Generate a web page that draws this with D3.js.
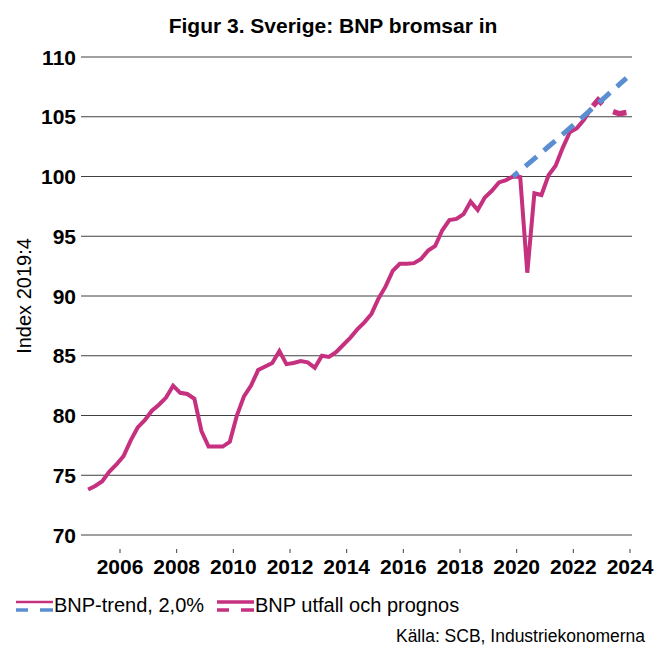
<!DOCTYPE html>
<html><head><meta charset="utf-8">
<script src="https://cdn.jsdelivr.net/npm/d3@7"></script>
<style>body{margin:0;background:#fff}svg{display:block;font-family:"Liberation Sans",Arial,sans-serif}</style>
</head><body>
<svg id="c" width="666" height="646"></svg>
<script>
// ---- data ----
const startYear = 2004, startQuarter = 4;   // first quarter of the outcome series
const bnpOutcome = [73.8,74.1,74.5,75.3,75.9,76.6,77.9,79.0,79.6,80.4,80.9,81.5,82.5,81.9,81.8,81.4,
  78.7,77.4,77.4,77.4,77.8,80.0,81.6,82.5,83.8,84.1,84.4,85.4,84.3,84.4,84.55,84.45,84.0,85.0,84.9,85.3,
  85.9,86.5,87.2,87.8,88.5,89.8,90.8,92.1,92.7,92.7,92.75,93.1,93.8,94.2,95.5,96.35,96.45,96.85,97.9,97.2,
  98.25,98.8,99.5,99.7,100.0,99.95,91.95,98.6,98.45,100.1,100.9,102.4,103.7,104.05,104.75,105.7];
const bnpForecastStart = "2022K3";
const bnpForecast = [105.7,106.4,105.85,105.45,105.25,105.35];
const trendStart = "2019K4";
const trend = [100.0,100.5,100.99,101.49,102.0,102.51,103.01,103.53,104.04,104.56,105.08,105.6,106.12,106.65,107.18,107.71,108.24];
const xTicks = [2006,2008,2010,2012,2014,2016,2018,2020,2022,2024];
const yTicks = [70,75,80,85,90,95,100,105,110];
const title = "Figur 3. Sverige: BNP bromsar in";
const yTitle = "Index 2019:4";
const legendLabels = ["BNP-trend, 2,0%","BNP utfall och prognos"];
const source = "Källa: SCB, Industriekonomerna";

// quarter helpers
function qName(y,q){return y+"K"+q;}
function qTime(name){const [y,q]=name.split("K").map(Number);return y+(q-1)/4+0.125;}
function seq(startName,n){let [y,q]=startName.split("K").map(Number);const out=[];for(let i=0;i<n;i++){out.push(qName(y,q));q++;if(q>4){q=1;y++;}}return out;}
const outcomeQ = seq(qName(startYear,startQuarter), bnpOutcome.length);
const forecastQ = seq(bnpForecastStart, bnpForecast.length);
const trendQ = seq(trendStart, trend.length);

const pink="#c5307f", blue="#5a8ed1", grid="#404040";
const svg=d3.select("#c");
const x=d3.scaleLinear().domain([2006,2024]).range([120,630]);
const y=d3.scaleLinear().domain([70,110]).range([535,57]);
const X1=632;

// title
svg.append("text").attr("x",333).attr("y",33).attr("text-anchor","middle")
  .attr("font-size",21).attr("font-weight","bold").text(title);

// grid + y ticks
const gy=svg.append("g");
yTicks.forEach(v=>{
  gy.append("line").attr("x1",81).attr("x2",X1).attr("y1",y(v)).attr("y2",y(v)).attr("stroke",grid).attr("stroke-width",1);
  gy.append("text").attr("x",76).attr("y",y(v)).attr("dy","0.36em").attr("text-anchor","end")
    .attr("font-size",21).attr("font-weight","bold").text(v);
});
// x ticks
xTicks.forEach(t=>{
  svg.append("line").attr("x1",x(t)).attr("x2",x(t)).attr("y1",549).attr("y2",553).attr("stroke",grid);
  svg.append("text").attr("x",x(t)).attr("y",574).attr("text-anchor","middle")
    .attr("font-size",21).attr("font-weight","bold").text(t);
});
// y title
svg.append("text").attr("transform","translate(31,296) rotate(-90)").attr("text-anchor","middle")
  .attr("font-size",20).text(yTitle);

const line=d3.line().x(d=>x(qTime(d[0]))).y(d=>y(d[1]));
svg.append("path").attr("d",line(outcomeQ.map((q,i)=>[q,bnpOutcome[i]])))
  .attr("fill","none").attr("stroke",pink).attr("stroke-width",4);
svg.append("path").attr("d",line(forecastQ.map((q,i)=>[q,bnpForecast[i]])))
  .attr("fill","none").attr("stroke",pink).attr("stroke-width",5.5).attr("stroke-dasharray","0 3 14 13 20 40");
svg.append("path").attr("d",line(trendQ.map((q,i)=>[q,trend[i]])))
  .attr("fill","none").attr("stroke",blue).attr("stroke-width",5).attr("stroke-dasharray","15 9.3").attr("stroke-dashoffset",8.4);

// legend
function swatch(x0,topW,bottomColor){
  svg.append("line").attr("x1",x0).attr("x2",x0+37).attr("y1",602).attr("y2",602).attr("stroke",pink).attr("stroke-width",topW);
  svg.append("line").attr("x1",x0).attr("x2",x0+37).attr("y1",610).attr("y2",610).attr("stroke",bottomColor).attr("stroke-width",3.5).attr("stroke-dasharray","12 12 13");
}
swatch(16,2.5,blue);
svg.append("text").attr("x",54).attr("y",612).attr("font-size",20).text(legendLabels[0]);
swatch(217,3.5,pink);
svg.append("text").attr("x",255).attr("y",612).attr("font-size",20).text(legendLabels[1]);
svg.append("text").attr("x",645).attr("y",642).attr("text-anchor","end").attr("font-size",17.5).text(source);
</script>
</body></html>
